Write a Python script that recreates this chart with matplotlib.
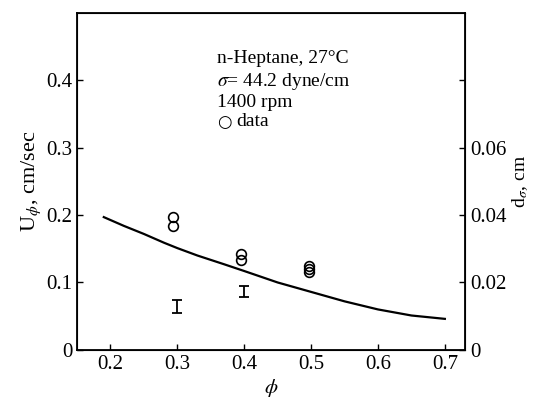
import matplotlib
matplotlib.use('Agg')
import matplotlib.pyplot as plt

plt.rcParams['font.family'] = ['Liberation Serif', 'DejaVu Serif']
plt.rcParams['mathtext.fontset'] = 'stix'

# model curve, U_phi vs phi
phi_curve = [0.19, 0.22, 0.25, 0.28, 0.30, 0.33, 0.37, 0.40, 0.45, 0.50, 0.55, 0.60, 0.65, 0.70]
u_curve = [0.197, 0.184, 0.172, 0.159, 0.151, 0.140, 0.127, 0.117, 0.100, 0.086, 0.072, 0.060, 0.051, 0.046]

# measured U_phi (open circles)
phi_data = [0.293, 0.293, 0.395, 0.395, 0.497, 0.497, 0.497]
u_data = [0.197, 0.184, 0.143, 0.134, 0.124, 0.120, 0.116]

# drop diameter range (right axis)
phi_d = [0.30, 0.40]
d_vals = [0.0128, 0.0173]
d_err = [0.002, 0.0017]

fig = plt.figure(figsize=(5.35, 4.04), dpi=100)
ax = fig.add_axes([0.144, 0.134, 0.725, 0.834])

ax.plot(phi_curve, u_curve, color='black', lw=1.6)
ax.plot(phi_data, u_data, 'o', mfc='none', mec='black', ms=7, mew=1.2)

ax.set_xlim(0.15, 0.73)
ax.set_ylim(0, 0.5)
ax.set_xticks([0.2, 0.3, 0.4, 0.5, 0.6, 0.7])
ax.set_xticklabels(['0.2', '0.3', '0.4', '0.5', '0.6', '0.7'])
ax.set_yticks([0, 0.1, 0.2, 0.3, 0.4])
ax.set_yticklabels(['0', '0.1', '0.2', '0.3', '0.4'])
ax.tick_params(direction='in', length=4, labelsize=15, width=1)
ax.set_xlabel(r'$\phi$', fontsize=15, labelpad=2)
ax.set_ylabel(r'U$_\phi$, cm/sec', fontsize=16, labelpad=2)
for s in ax.spines.values():
    s.set_linewidth(1.3)

ax2 = ax.twinx()
ax2.errorbar(phi_d, d_vals, yerr=d_err, fmt='none', ecolor='black',
             elinewidth=1.3, capsize=3.5, capthick=1.3)
ax2.set_ylim(0, 0.1)
ax2.set_yticks([0, 0.02, 0.04, 0.06, 0.08])
ax2.set_yticklabels(['0', '0.02', '0.04', '0.06', ''])
ax2.tick_params(direction='in', length=4, labelsize=15, width=1)
ax2.set_ylabel(r'd$_\sigma$, cm', fontsize=14, labelpad=3)

tx = 0.361
ax.text(tx, 0.866, 'n-Heptane, 27°C', transform=ax.transAxes, fontsize=14, va='center')
ax.text(tx, 0.795, r'$\sigma$= 44.2 dyne/cm', transform=ax.transAxes, fontsize=14, va='center')
ax.text(tx, 0.733, '1400 rpm', transform=ax.transAxes, fontsize=14, va='center')
ax.text(tx, 0.677, '○', transform=ax.transAxes, fontsize=12, va='center',
        family='DejaVu Sans')
ax.text(tx + 0.05, 0.677, 'data', transform=ax.transAxes, fontsize=14, va='center')

fig.savefig('out.png', dpi=100)
